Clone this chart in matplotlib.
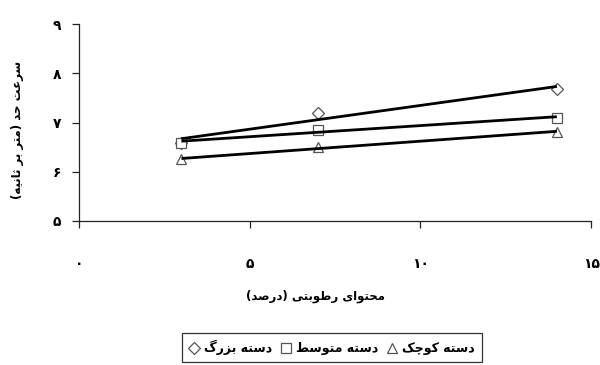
"""Terminal velocity vs moisture content, three size classes, with linear trend lines."""

import numpy as np
import matplotlib

matplotlib.use("Agg")
import matplotlib.pyplot as plt

# data
moisture = [3, 7, 14]
large = [6.58, 7.20, 7.68]
medium = [6.59, 6.85, 7.10]
small = [6.25, 6.50, 6.81]

x_ticks = [0, 5, 10, 15]
y_ticks = [5, 6, 7, 8, 9]

series_names = ["دسته بزرگ", "دسته متوسط", "دسته کوچک"]
x_title = "محتوای رطوبتی (درصد)"
y_title = "سرعت حد (متر بر ثانیه)"

# (isolated, final, initial, medial); None = letter does not join forward
FORMS = {
    "ا": ("\uFE8D", "\uFE8E", None, None),
    "ب": ("\uFE8F", "\uFE90", "\uFE91", "\uFE92"),
    "ت": ("\uFE95", "\uFE96", "\uFE97", "\uFE98"),
    "ث": ("\uFE99", "\uFE9A", "\uFE9B", "\uFE9C"),
    "ح": ("\uFEA1", "\uFEA2", "\uFEA3", "\uFEA4"),
    "د": ("\uFEA9", "\uFEAA", None, None),
    "ر": ("\uFEAD", "\uFEAE", None, None),
    "ز": ("\uFEAF", "\uFEB0", None, None),
    "س": ("\uFEB1", "\uFEB2", "\uFEB3", "\uFEB4"),
    "ص": ("\uFEB9", "\uFEBA", "\uFEBB", "\uFEBC"),
    "ط": ("\uFEC1", "\uFEC2", "\uFEC3", "\uFEC4"),
    "ع": ("\uFEC9", "\uFECA", "\uFECB", "\uFECC"),
    "م": ("\uFEE1", "\uFEE2", "\uFEE3", "\uFEE4"),
    "ن": ("\uFEE5", "\uFEE6", "\uFEE7", "\uFEE8"),
    "ه": ("\uFEE9", "\uFEEA", "\uFEEB", "\uFEEC"),
    "و": ("\uFEED", "\uFEEE", None, None),
    "ی": ("\uFBFC", "\uFBFD", "\uFBFE", "\uFBFF"),
    "ک": ("\uFB8E", "\uFB8F", "\uFB90", "\uFB91"),
    "گ": ("\uFB92", "\uFB93", "\uFB94", "\uFB95"),
    "چ": ("\uFB7A", "\uFB7B", "\uFB7C", "\uFB7D"),
}


def shape_rtl(text):
    """Join Persian letters and return them in visual (left-to-right) order."""
    chars = list(text)
    out = []
    for i, ch in enumerate(chars):
        forms = FORMS.get(ch)
        if forms is None:
            out.append(ch)
            continue
        prev = FORMS.get(chars[i - 1]) if i > 0 else None
        nxt = FORMS.get(chars[i + 1]) if i + 1 < len(chars) else None
        join_prev = prev is not None and prev[2] is not None
        join_next = forms[2] is not None and nxt is not None
        if join_prev and join_next:
            out.append(forms[3])
        elif join_prev:
            out.append(forms[1])
        elif join_next:
            out.append(forms[2])
        else:
            out.append(forms[0])
    mirror = {"(": ")", ")": "("}
    return "".join(mirror.get(c, c) for c in reversed(out))


def fa_num(n):
    return str(n).translate(str.maketrans("0123456789", "۰۱۲۳۴۵۶۷۸۹"))


plt.rcParams["font.family"] = ["DejaVu Sans"]
plt.rcParams["font.weight"] = "bold"

W, H = 600, 365
fig = plt.figure(figsize=(W / 100, H / 100), dpi=100)
ax = fig.add_axes([79 / W, 1 - 221 / H, 512 / W, 197 / H])
ax.set_xlim(0, 15)
ax.set_ylim(5, 9)

styles = [("D", 6.5), ("s", 7), ("^", 7.5)]
handles = []
for vals, (mk, ms) in zip([large, medium, small], styles):
    h = ax.plot(moisture, vals, linestyle="none", marker=mk, markersize=ms,
                markerfacecolor="white", markeredgecolor="#555555",
                markeredgewidth=0.9, zorder=3)[0]
    handles.append(h)

for vals in [large, medium, small]:
    coef = np.polyfit(moisture, vals, 1)
    xs = np.array([min(moisture), max(moisture)])
    ax.plot(xs, np.polyval(coef, xs), color="black", lw=2.0, zorder=4,
            solid_capstyle="butt")

for side in ["top", "right"]:
    ax.spines[side].set_visible(False)
for side in ["left", "bottom"]:
    ax.spines[side].set_color("#222222")
    ax.spines[side].set_linewidth(0.9)

ax.set_xticks(x_ticks)
ax.set_xticklabels([fa_num(v) for v in x_ticks])
ax.set_yticks(y_ticks)
ax.set_yticklabels([fa_num(v) for v in y_ticks])
ax.tick_params(axis="x", length=5, width=0.9, color="#222222", pad=21,
               labelsize=10)
ax.tick_params(axis="y", length=5, width=0.9, color="#222222", pad=8,
               labelsize=10)

fig.text(315 / W, 1 - 296 / H, shape_rtl(x_title), ha="center", va="center",
         fontsize=8.5, fontweight="bold")
fig.text(18 / W, 1 - 130 / H, shape_rtl(y_title), ha="center", va="center",
         rotation=90, fontsize=8.5, fontweight="bold")

leg = fig.legend(handles, [shape_rtl(s) for s in series_names],
                 loc="upper center", bbox_to_anchor=(332 / W, 1 - 333 / H),
                 ncol=3, frameon=True, fancybox=False, edgecolor="black",
                 handlelength=0.8, handletextpad=0.4, columnspacing=0.7,
                 borderaxespad=0, borderpad=0.55,
                 prop={"size": 9, "weight": "bold"})
leg.get_frame().set_linewidth(0.9)

fig.savefig("out.png", dpi=100)
